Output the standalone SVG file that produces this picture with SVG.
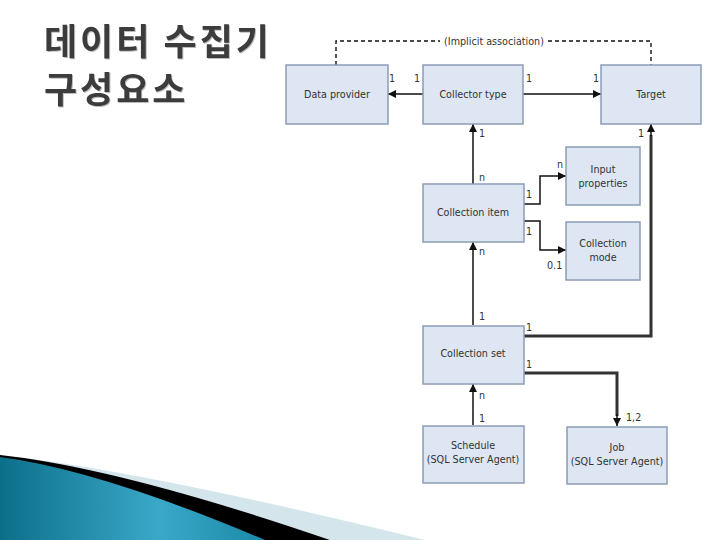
<svg xmlns="http://www.w3.org/2000/svg" width="720" height="540" viewBox="0 0 720 540">
<style>
.box{fill:#dde6f2;stroke:#8c9cb6;stroke-width:1.5}
.bt{font-family:"DejaVu Sans","Liberation Sans",sans-serif;font-size:9.6px;fill:#333;text-anchor:middle}
.lb{font-family:"DejaVu Sans","Liberation Sans",sans-serif;font-size:9.6px;fill:#333}
.ln{fill:none;stroke:#111;stroke-width:1.5}
.thick{fill:none;stroke:#333;stroke-width:3}
.title{font-family:"Noto Sans CJK KR",sans-serif;font-size:36px;font-weight:bold;fill:#3c3c3c;letter-spacing:3px}
</style>
<defs>
<marker id="arr" viewBox="0 0 10 10" refX="10" refY="5" markerWidth="8" markerHeight="8" markerUnits="userSpaceOnUse" orient="auto">
<path d="M0,0 L10,5 L0,10 Z" fill="#111"/>
</marker>
<linearGradient id="teal" x1="0" y1="0" x2="1" y2="0">
<stop offset="0" stop-color="#0c6f8a"/>
<stop offset="0.6" stop-color="#3aa8c8"/>
<stop offset="1" stop-color="#1a8aa8"/>
</linearGradient>
</defs>
<rect width="720" height="540" fill="#fff"/>
<g id="decoration">
<path d="M0,455 Q140,470 425,540 L0,540 Z" fill="#d4e6ec"/>
<path d="M0,455 Q120,468 330,540 L0,540 Z" fill="#000"/>
<path d="M0,457 Q100,470 265,540 L0,540 Z" fill="url(#teal)"/>
</g>
<g id="title">
<text class="title" x="44" y="55" style="filter:drop-shadow(1px 1px 0.5px #bbb)">데이터 수집기</text>
<text class="title" x="44" y="103" style="filter:drop-shadow(1px 1px 0.5px #bbb)">구성요소</text>
</g>
<g id="connectors">
<path d="M336,65 V41 H440 M548,41 H651 V65" fill="none" stroke="#111" stroke-width="1.4" stroke-dasharray="4,3"/>
<text class="lb" x="494" y="45" text-anchor="middle">(Implicit association)</text>
<line class="ln" x1="423" y1="94" x2="388" y2="94" marker-end="url(#arr)"/>
<line class="ln" x1="523" y1="94" x2="601" y2="94" marker-end="url(#arr)"/>
<line class="ln" x1="473" y1="184" x2="473" y2="124" marker-end="url(#arr)"/>
<path class="ln" d="M524,204 H540 V176 H566" marker-end="url(#arr)"/>
<path class="ln" d="M524,221 H540 V250 H566" marker-end="url(#arr)"/>
<line class="ln" x1="473" y1="325" x2="473" y2="242" marker-end="url(#arr)"/>
<path class="thick" d="M524,336 H651 V135"/>
<line class="ln" x1="651" y1="136" x2="651" y2="124" marker-end="url(#arr)"/>
<path class="thick" d="M524,373 H617 V416"/>
<line class="ln" x1="617" y1="414" x2="617" y2="426" marker-end="url(#arr)"/>
<line class="ln" x1="473" y1="425" x2="473" y2="384" marker-end="url(#arr)"/>
<text class="lb" x="389" y="82">1</text>
<text class="lb" x="414" y="82">1</text>
<text class="lb" x="526" y="82">1</text>
<text class="lb" x="593" y="82">1</text>
<text class="lb" x="479" y="137">1</text>
<text class="lb" x="479" y="181">n</text>
<text class="lb" x="526" y="198">1</text>
<text class="lb" x="557" y="168">n</text>
<text class="lb" x="526" y="235">1</text>
<text class="lb" x="547" y="269">0.1</text>
<text class="lb" x="479" y="255">n</text>
<text class="lb" x="479" y="320">1</text>
<text class="lb" x="526" y="331">1</text>
<text class="lb" x="638" y="137">1</text>
<text class="lb" x="526" y="368">1</text>
<text class="lb" x="626" y="421">1,2</text>
<text class="lb" x="479" y="399">n</text>
<text class="lb" x="479" y="422">1</text>
</g>
<g id="data-provider"><rect class="box" x="286" y="65" width="102" height="59"/><text class="bt" x="337" y="98">Data provider</text></g>
<g id="collector-type"><rect class="box" x="423" y="65" width="100" height="59"/><text class="bt" x="473" y="98">Collector type</text></g>
<g id="target"><rect class="box" x="601" y="65" width="100" height="59"/><text class="bt" x="651" y="98">Target</text></g>
<g id="input-properties"><rect class="box" x="566" y="147" width="74" height="58"/><text class="bt" x="603" y="173">Input</text><text class="bt" x="603" y="187">properties</text></g>
<g id="collection-item"><rect class="box" x="423" y="184" width="101" height="58"/><text class="bt" x="473" y="216">Collection item</text></g>
<g id="collection-mode"><rect class="box" x="566" y="222" width="74" height="58"/><text class="bt" x="603" y="247">Collection</text><text class="bt" x="603" y="261">mode</text></g>
<g id="collection-set"><rect class="box" x="423" y="326" width="101" height="58"/><text class="bt" x="473" y="357">Collection set</text></g>
<g id="schedule"><rect class="box" x="423" y="426" width="101" height="57"/><text class="bt" x="473" y="449">Schedule</text><text class="bt" x="473" y="463">(SQL Server Agent)</text></g>
<g id="job"><rect class="box" x="567" y="427" width="100" height="57"/><text class="bt" x="617" y="451">Job</text><text class="bt" x="617" y="465">(SQL Server Agent)</text></g>
</svg>
